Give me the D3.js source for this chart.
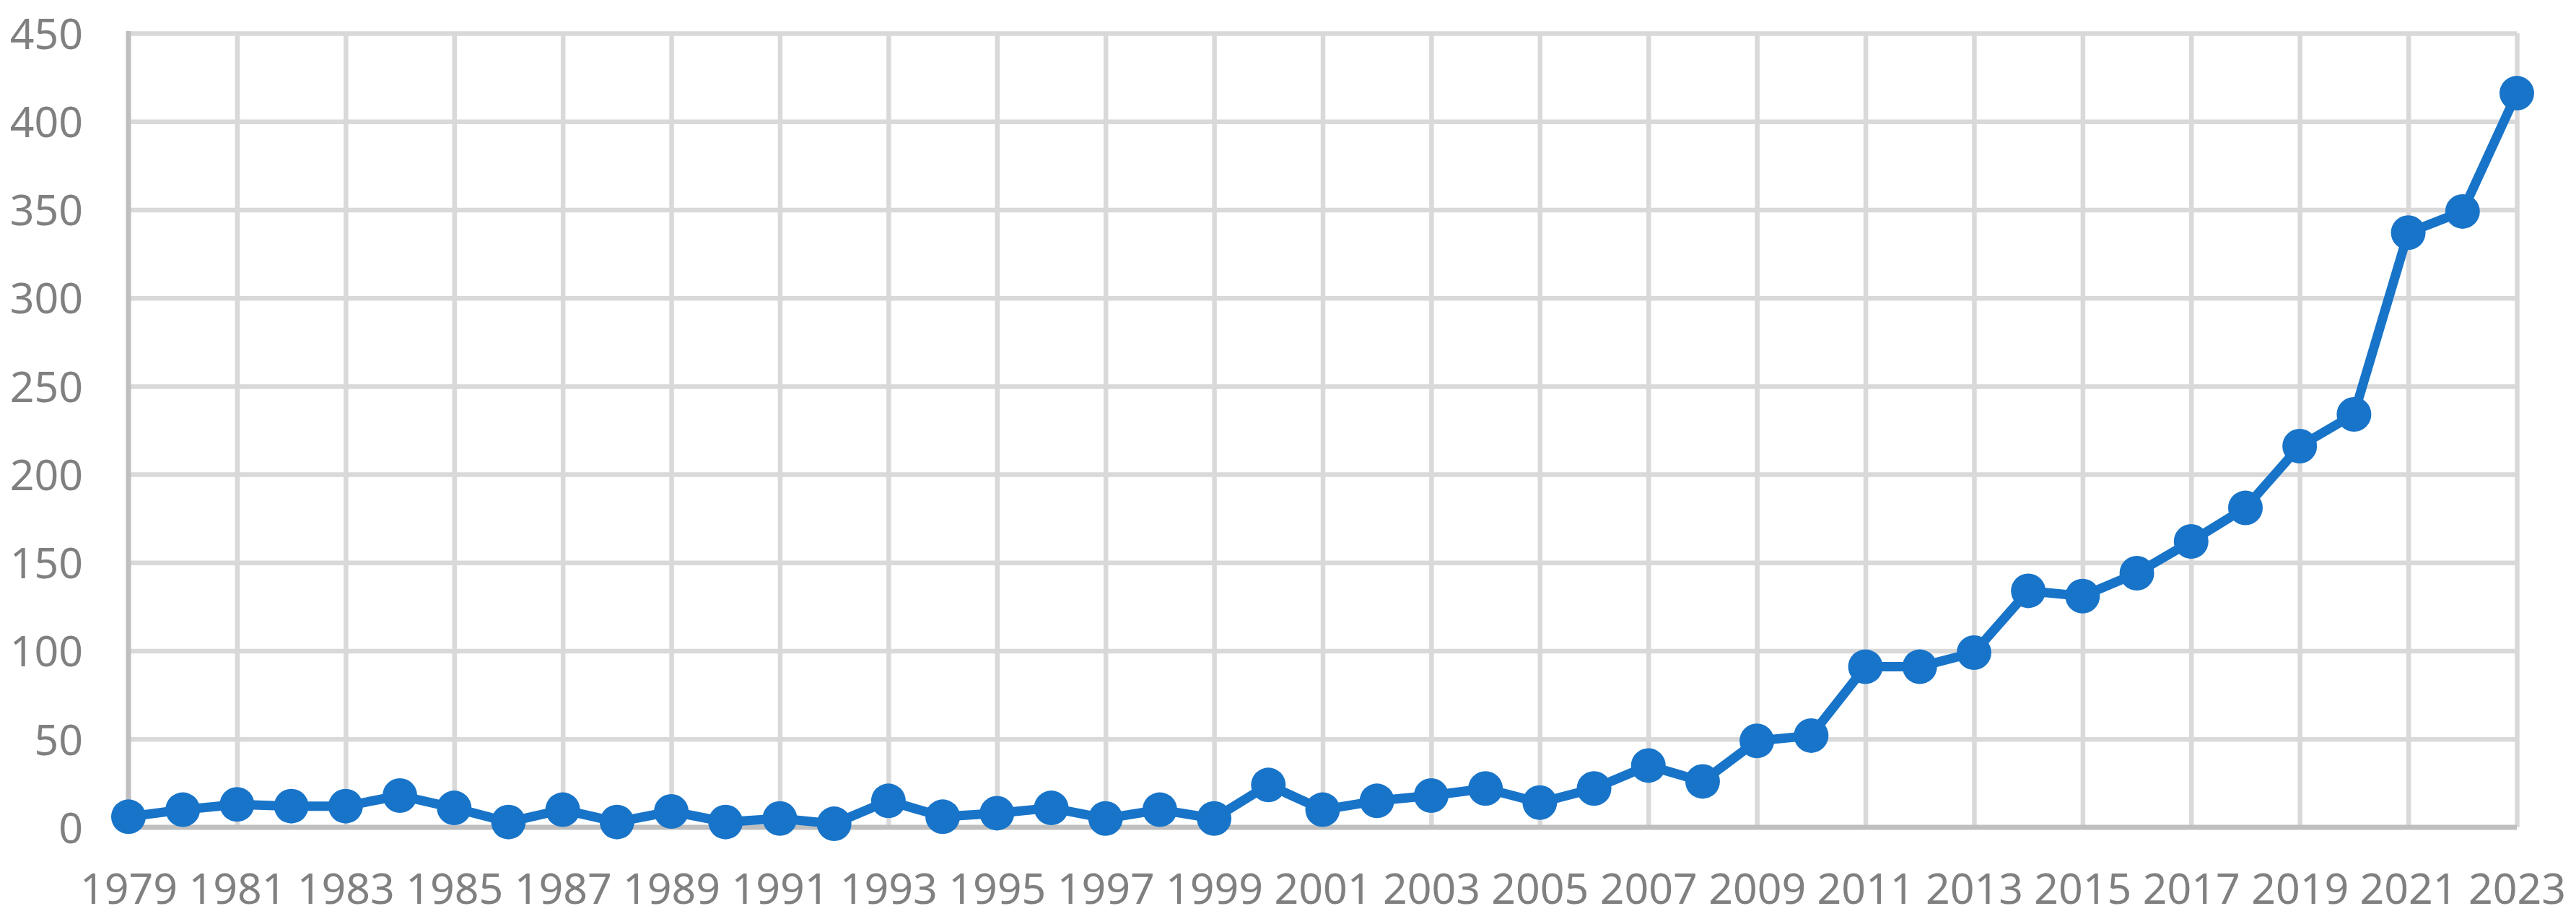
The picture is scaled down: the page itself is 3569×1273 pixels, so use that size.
<!DOCTYPE html>
<html>
<head>
<meta charset="utf-8">
<script src="https://cdn.jsdelivr.net/npm/d3@7"></script>
<style>
  html, body { margin: 0; padding: 0; background: #ffffff; }
  svg { display: block; }
</style>
</head>
<body>
<svg id="chart" width="3569" height="1273"></svg>
<script>
// ---- data ----
const years = [1979,1980,1981,1982,1983,1984,1985,1986,1987,1988,1989,1990,1991,1992,1993,1994,1995,1996,1997,1998,1999,2000,2001,2002,2003,2004,2005,2006,2007,2008,2009,2010,2011,2012,2013,2014,2015,2016,2017,2018,2019,2020,2021,2022,2023];
const values = [6,10,13,12,12,18,11,3,10,3,9,3,5,2,15,6,8,11,5,10,5,24,10,15,18,22,14,22,35,26,49,52,91,91,99,134,131,144,162,181,216,234,337,349,416];
const xTickLabels = [1979,1981,1983,1985,1987,1989,1991,1993,1995,1997,1999,2001,2003,2005,2007,2009,2011,2013,2015,2017,2019,2021,2023];
const yTickLabels = [0,50,100,150,200,250,300,350,400,450];

// ---- layout ----
const plotLeft = 178, plotRight = 3487, plotTop = 46, plotBottom = 1146;
const svg = d3.select("#chart");

const x = d3.scaleLinear().domain([1979, 2023]).range([plotLeft, plotRight]);
const y = d3.scaleLinear().domain([0, 450]).range([plotBottom, plotTop]);

const gridColor = "#D9D9D9", axisColor = "#BFBFBF", textColor = "#808080";
const font = "'Noto Sans', 'Open Sans', sans-serif";

// horizontal gridlines
const yGrid = svg.append("g")
  .attr("transform", `translate(${plotLeft},0)`)
  .call(d3.axisLeft(y).tickValues(yTickLabels.filter(v => v > 0)).tickSize(-(plotRight - plotLeft)).tickFormat(""));
yGrid.select(".domain").remove();
yGrid.selectAll("line").attr("stroke", gridColor).attr("stroke-width", 6.5);

// vertical gridlines
const xGrid = svg.append("g")
  .attr("transform", `translate(0,${plotBottom})`)
  .call(d3.axisBottom(x).tickValues(xTickLabels.filter(v => v > 1979)).tickSize(-(plotBottom - plotTop)).tickFormat(""));
xGrid.select(".domain").remove();
xGrid.selectAll("line").attr("stroke", gridColor).attr("stroke-width", 6.5);

// axis lines
svg.append("line").attr("x1", plotLeft).attr("x2", plotLeft).attr("y1", plotTop - 3).attr("y2", plotBottom)
  .attr("stroke", axisColor).attr("stroke-width", 7);
svg.append("line").attr("x1", plotLeft).attr("x2", plotRight).attr("y1", plotBottom).attr("y2", plotBottom)
  .attr("stroke", axisColor).attr("stroke-width", 7);

// y tick labels
const yAxis = svg.append("g")
  .attr("transform", `translate(${plotLeft},0)`)
  .call(d3.axisLeft(y).tickValues(yTickLabels).tickSize(0).tickPadding(63));
yAxis.select(".domain").remove();
yAxis.selectAll("text")
  .attr("font-family", font).attr("font-size", 59).attr("fill", textColor)
  .attr("dy", "0.36em");

// x tick labels
const xAxis = svg.append("g")
  .attr("transform", `translate(0,${plotBottom})`)
  .call(d3.axisBottom(x).tickValues(xTickLabels).tickSize(0).tickFormat(d3.format("d")));
xAxis.select(".domain").remove();
xAxis.selectAll("text")
  .attr("font-family", font).attr("font-size", 59).attr("fill", textColor)
  .attr("y", 106).attr("dy", 0);

// line
const lineColor = "#1874C8";
const data = years.map((yr, i) => ({ yr, v: values[i] }));
svg.append("path")
  .datum(data)
  .attr("fill", "none")
  .attr("stroke", lineColor)
  .attr("stroke-width", 13)
  .attr("stroke-linejoin", "round")
  .attr("d", d3.line().x(d => x(d.yr)).y(d => y(d.v)));

svg.append("g").selectAll("circle")
  .data(data)
  .join("circle")
  .attr("cx", d => x(d.yr))
  .attr("cy", d => y(d.v))
  .attr("r", 24)
  .attr("fill", lineColor);
</script>
</body>
</html>
